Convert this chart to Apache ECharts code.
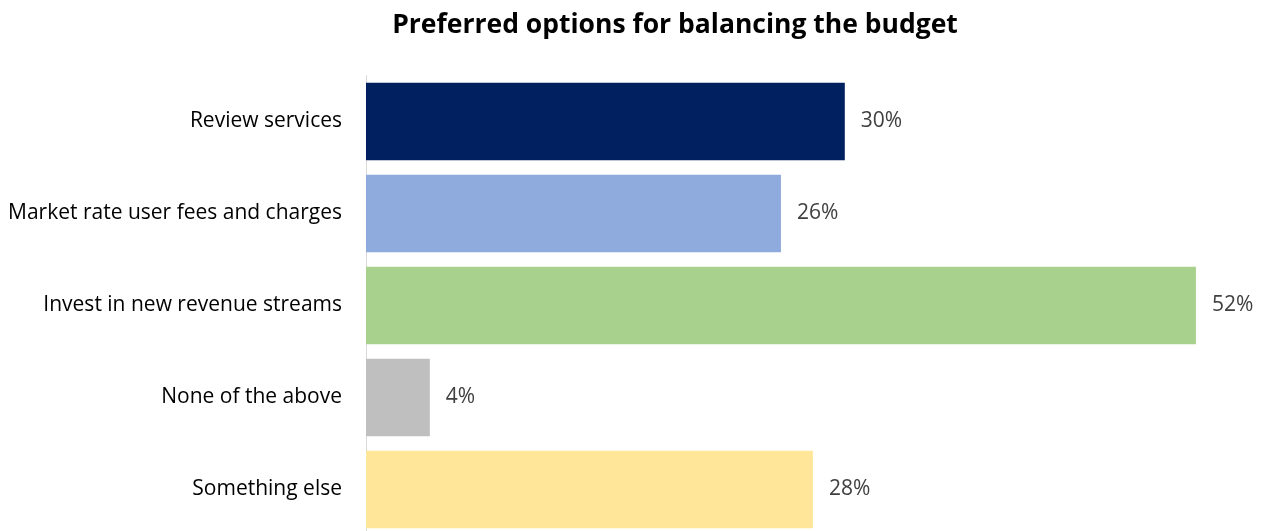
<!DOCTYPE html>
<html>
<head>
<meta charset="utf-8">
<script src="https://cdn.jsdelivr.net/npm/echarts@6/dist/echarts.min.js"></script>
<style>
  html, body { margin: 0; padding: 0; background: #ffffff; overflow: hidden; }
  /* the plot runs a few pixels past the bottom edge of the view */
  #chart { width: 1261px; height: 540px; }
</style>
</head>
<body>
<div id="chart"></div>
<script>
// Survey answers, top to bottom
const categories = [
  'Review services',
  'Market rate user fees and charges',
  'Invest in new revenue streams',
  'None of the above',
  'Something else'
];
// Share of respondents, in percent
const shares = [30, 26, 52, 4, 28];
const barColors = ['#002060', '#8FAADC', '#A9D18E', '#BFBFBF', '#FFE699'];

const chart = echarts.init(document.getElementById('chart'), null, { renderer: 'canvas' });

chart.setOption({
  backgroundColor: '#ffffff',
  animation: false,
  title: {
    text: 'Preferred options for balancing the budget',
    left: 670,
    textAlign: 'center',
    top: 7,
    textStyle: {
      fontFamily: 'Open Sans',
      fontWeight: 'bold',
      fontSize: 26.5,
      color: '#000000'
    }
  },
  grid: {
    left: 366,
    top: 75.5,
    width: 877.8,
    height: 460,
    containLabel: false
  },
  xAxis: {
    type: 'value',
    min: 0,
    max: 55,
    show: false
  },
  yAxis: {
    type: 'category',
    data: categories,
    inverse: true,
    axisLine: { show: true, lineStyle: { color: '#D9D9D9', width: 1 } },
    axisTick: { show: false },
    axisLabel: {
      margin: 24,
      fontFamily: 'Open Sans',
      fontSize: 21,
      color: '#000000'
    }
  },
  series: [{
    type: 'bar',
    data: shares.map((v, i) => ({ value: v, itemStyle: { color: barColors[i] } })),
    barCategoryGap: '16%',
    label: {
      show: true,
      position: 'right',
      distance: 16,
      formatter: p => p.value + '%',
      fontFamily: 'Open Sans',
      fontSize: 21,
      color: '#404040'
    }
  }]
});
</script>
</body>
</html>
